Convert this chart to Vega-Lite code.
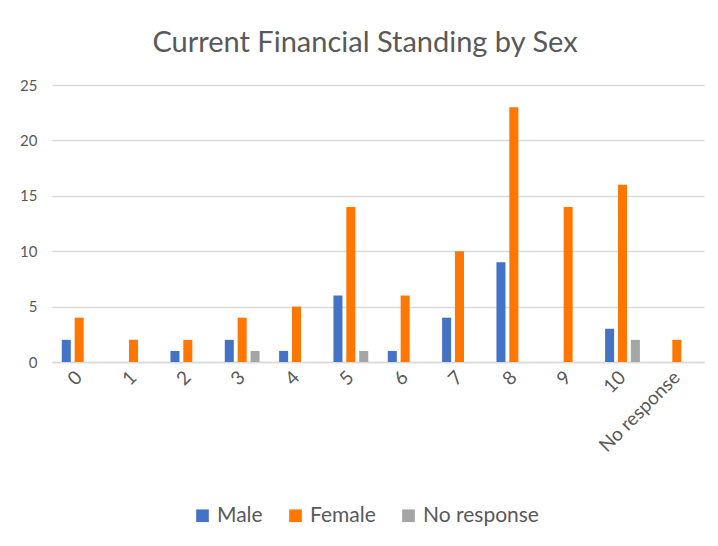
{
  "$schema": "https://vega.github.io/schema/vega-lite/v6.json",
  "width": 652,
  "height": 277,
  "autosize": {"type": "none"},
  "padding": {"left": 52, "top": 85, "right": 14, "bottom": 184},
  "background": "white",
  "title": {
    "text": "Current Financial Standing by Sex",
    "font": "Lato",
    "fontSize": 29,
    "fontWeight": "normal",
    "color": "#595959",
    "anchor": "middle",
    "dx": -13,
    "offset": 20
  },
  "data": {
    "values": [
      {"score": "0", "sex": "Male", "count": 2},
      {"score": "0", "sex": "Female", "count": 4},
      {"score": "0", "sex": "No response", "count": 0},
      {"score": "1", "sex": "Male", "count": 0},
      {"score": "1", "sex": "Female", "count": 2},
      {"score": "1", "sex": "No response", "count": 0},
      {"score": "2", "sex": "Male", "count": 1},
      {"score": "2", "sex": "Female", "count": 2},
      {"score": "2", "sex": "No response", "count": 0},
      {"score": "3", "sex": "Male", "count": 2},
      {"score": "3", "sex": "Female", "count": 4},
      {"score": "3", "sex": "No response", "count": 1},
      {"score": "4", "sex": "Male", "count": 1},
      {"score": "4", "sex": "Female", "count": 5},
      {"score": "4", "sex": "No response", "count": 0},
      {"score": "5", "sex": "Male", "count": 6},
      {"score": "5", "sex": "Female", "count": 14},
      {"score": "5", "sex": "No response", "count": 1},
      {"score": "6", "sex": "Male", "count": 1},
      {"score": "6", "sex": "Female", "count": 6},
      {"score": "6", "sex": "No response", "count": 0},
      {"score": "7", "sex": "Male", "count": 4},
      {"score": "7", "sex": "Female", "count": 10},
      {"score": "7", "sex": "No response", "count": 0},
      {"score": "8", "sex": "Male", "count": 9},
      {"score": "8", "sex": "Female", "count": 23},
      {"score": "8", "sex": "No response", "count": 0},
      {"score": "9", "sex": "Male", "count": 0},
      {"score": "9", "sex": "Female", "count": 14},
      {"score": "9", "sex": "No response", "count": 0},
      {"score": "10", "sex": "Male", "count": 3},
      {"score": "10", "sex": "Female", "count": 16},
      {"score": "10", "sex": "No response", "count": 2},
      {"score": "No response", "sex": "Male", "count": 0},
      {"score": "No response", "sex": "Female", "count": 2},
      {"score": "No response", "sex": "No response", "count": 0}
    ]
  },
  "mark": {"type": "bar"},
  "encoding": {
    "x": {
      "field": "score",
      "type": "nominal",
      "sort": ["0", "1", "2", "3", "4", "5", "6", "7", "8", "9", "10", "No response"],
      "scale": {"paddingInner": 0.36, "paddingOuter": 0.18},
      "axis": {
        "title": null,
        "labelAngle": -45,
        "labelAlign": "right",
        "labelBaseline": "middle",
        "labelFont": "Lato",
        "labelFontSize": 19,
        "labelColor": "#595959",
        "labelPadding": 12,
        "ticks": false,
        "domainColor": "#d9d9d9",
        "domainWidth": 1.5
      }
    },
    "xOffset": {
      "field": "sex",
      "type": "nominal",
      "sort": ["Male", "Female", "No response"],
      "scale": {"paddingInner": 0.3}
    },
    "y": {
      "field": "count",
      "type": "quantitative",
      "scale": {"domain": [0, 25]},
      "axis": {
        "title": null,
        "values": [0, 5, 10, 15, 20, 25],
        "labelFont": "Lato",
        "labelFontSize": 15,
        "labelColor": "#595959",
        "labelPadding": 15,
        "ticks": false,
        "domain": false,
        "gridColor": "#d9d9d9",
        "gridWidth": 1.5
      }
    },
    "color": {
      "field": "sex",
      "type": "nominal",
      "sort": ["Male", "Female", "No response"],
      "scale": {
        "domain": ["Male", "Female", "No response"],
        "range": ["#4472C4", "#FF7700", "#A5A5A5"]
      },
      "legend": {
        "title": null,
        "orient": "none",
        "direction": "horizontal",
        "legendX": 140,
        "legendY": 420,
        "symbolType": "square",
        "symbolSize": 160,
        "symbolStrokeWidth": 0,
        "labelFont": "Lato",
        "labelFontSize": 21,
        "labelColor": "#595959",
        "columnPadding": 22,
        "labelOffset": 4
      }
    }
  },
  "config": {
    "view": {"stroke": null}
  }
}
